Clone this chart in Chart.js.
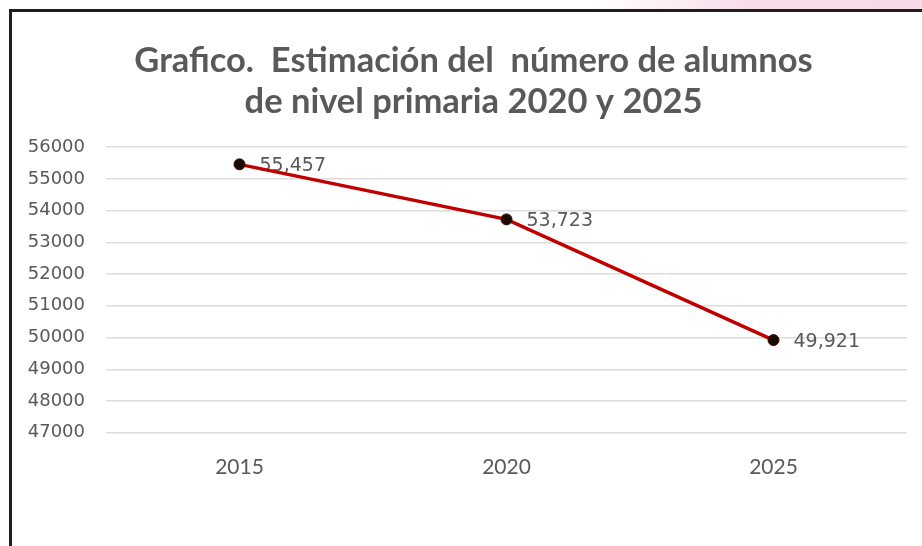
<!DOCTYPE html>
<html>
<head>
<meta charset="utf-8">
<script src="https://cdn.jsdelivr.net/npm/chart.js@4"></script>
<style>
    html, body { margin: 0; padding: 0; background: #fff; }
    #page { position: relative; width: 922px; height: 546px; overflow: hidden; }
    #band { position: absolute; left: 0; top: 0; width: 922px; height: 10px;
            background: linear-gradient(to right, #fff 0px, #fff 590px, #f7dbe7 760px, #f6dbe6 922px); }
    #frame { position: absolute; left: 9px; top: 9px; width: 930px; height: 560px;
             border-top: 3px solid #1e1e1e; border-left: 3px solid #1e1e1e; background: #fff; }
    canvas { position: absolute; left: 0; top: 0; }
</style>
</head>
<body>
<div id="page">
    <div id="band"></div>
    <div id="frame"></div>
    <canvas id="lineChart" width="922" height="546"></canvas>
</div>
<script>
// data
const years = ["2015", "2020", "2025"];
const alumnos = [55457, 53723, 49921];
const yMin = 47000;
const yMax = 56000;
const yStep = 1000;
const titleLines = ["Grafico.  Estimación del  número de alumnos", "de nivel primaria 2020 y 2025"];

document.addEventListener("DOMContentLoaded", function () {
    // labels next to each point, drawn under the line like the original
    const pointLabels = {
        id: "pointLabels",
        beforeDatasetsDraw(chart) {
            const ctx = chart.ctx;
            const meta = chart.getDatasetMeta(0);
            ctx.save();
            ctx.font = "19px 'DejaVu Sans'";
            ctx.fillStyle = "#595959";
            ctx.textAlign = "left";
            ctx.textBaseline = "middle";
            meta.data.forEach(function (pt, i) {
                ctx.fillText(alumnos[i].toLocaleString("en-US"), pt.x + 20, pt.y + 2);
            });
            ctx.restore();
        }
    };

    // the title in the original sits a bit right of the canvas centre
    const shiftTitle = {
        id: "shiftTitle",
        afterLayout(chart) {
            if (chart.titleBlock) {
                chart.titleBlock.left += 9;
                chart.titleBlock.right += 9;
            }
        }
    };

    const canvas = document.getElementById("lineChart");
    const ctx = canvas.getContext("2d");
    canvas.chart = new Chart(ctx, {
        type: "line",
        data: {
            labels: years,
            datasets: [{
                data: alumnos,
                borderColor: "#c00000",
                borderWidth: 3.5,
                pointRadius: 5.5,
                pointBackgroundColor: "#1a0a00",
                pointBorderColor: "#3a0a00",
                pointBorderWidth: 1,
                tension: 0,
            }],
        },
        options: {
            responsive: false,
            animation: false,
            layout: {
                padding: { left: 22, right: 15, top: 0, bottom: 52 },
            },
            plugins: {
                legend: { display: false },
                tooltip: { enabled: false },
                title: {
                    display: true,
                    text: titleLines,
                    color: "#595959",
                    font: { family: "Lato", size: 34.5, weight: "bold", lineHeight: 1.19 },
                    padding: { top: 40, bottom: 25 },
                },
            },
            scales: {
                x: {
                    offset: true,
                    grid: { display: false },
                    border: { display: false },
                    ticks: {
                        color: "#595959",
                        font: { family: "Lato", size: 21 },
                        padding: 14,
                    },
                },
                y: {
                    min: yMin,
                    max: yMax,
                    afterFit: function (scale) { scale.width = 84; },
                    grid: { color: "#dcdcdc", lineWidth: 1.5, drawTicks: false },
                    border: { display: false },
                    ticks: {
                        stepSize: yStep,
                        color: "#595959",
                        font: { family: "'DejaVu Sans'", size: 18 },
                        padding: 21,
                        callback: function (v) { return String(v); },
                    },
                },
            },
        },
        plugins: [pointLabels, shiftTitle],
    });
});
</script>
</body>
</html>
